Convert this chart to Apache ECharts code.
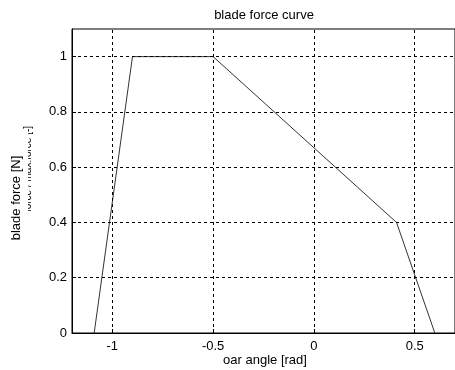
<!DOCTYPE html>
<html>
<head>
<meta charset="utf-8">
<script src="https://cdn.jsdelivr.net/npm/echarts@6/dist/echarts.min.js"></script>
<style>html,body{margin:0;padding:0;background:#fff}#c{width:455px;height:370px}</style>
</head>
<body>
<div id="c"></div>
<script>
// Data
const angle = [-1.09, -0.9, -0.5, 0.41, 0.6];
const force = [0, 1, 1, 0.4, 0];
const xTicks = [-1, -0.5, 0, 0.5];
const yTicks = [0, 0.2, 0.4, 0.6, 0.8, 1];
const titleText = 'blade force curve';
const xLabel = 'oar angle [rad]';
const yLabel = 'blade force [N]';
const yLabelHidden = 'force / max.force [-]';

const FONT = 'Liberation Sans, Arial, sans-serif';
const chart = echarts.init(document.getElementById('c'), null, {renderer: 'canvas'});

const gridLines = xTicks.map(v => ({xAxis: v})).concat(yTicks.filter(v => v > 0).map(v => ({yAxis: v})));

chart.setOption({
  animation: false,
  backgroundColor: '#fff',
  grid: {left: 72, top: 29, width: 386, height: 304, show: true, borderColor: '#000', borderWidth: 1, backgroundColor: '#fff'},
  xAxis: {
    type: 'value', min: -1.2, max: 0.7,
    axisLine: {show: true, onZero: false, lineStyle: {color: '#000', width: 1}},
    axisTick: {show: true, inside: true, length: 4, customValues: xTicks, lineStyle: {color: '#000'}},
    axisLabel: {customValues: xTicks, color: '#000', fontFamily: FONT, fontSize: 13, margin: 7,
      formatter: v => String(v)},
    splitLine: {show: false}
  },
  yAxis: {
    type: 'value', min: 0, max: 1.1,
    axisLine: {show: true, onZero: false, lineStyle: {color: '#000', width: 1}},
    axisTick: {show: true, inside: true, length: 4, customValues: yTicks, lineStyle: {color: '#000'}},
    axisLabel: {customValues: yTicks, color: '#000', fontFamily: FONT, fontSize: 13, margin: 5,
      formatter: v => String(v)},
    splitLine: {show: false}
  },
  series: [{
    type: 'line',
    data: angle.map((a, i) => [a, force[i]]),
    symbol: 'none',
    lineStyle: {color: '#333', width: 1},
    markLine: {
      silent: true, symbol: 'none', animation: false,
      label: {show: false},
      lineStyle: {color: '#000', type: [3, 3], width: 1},
      data: gridLines
    }
  }],
  graphic: [
    {type: 'text', x: 264, y: 15, style: {text: titleText, font: '13px ' + FONT, fill: '#000', align: 'center', verticalAlign: 'middle'}},
    {type: 'text', x: 265, y: 360, style: {text: xLabel, font: '13px ' + FONT, fill: '#000', align: 'center', verticalAlign: 'middle'}},
    {type: 'text', x: 28, y: 169, rotation: Math.PI / 2, z: 1,
      style: {text: yLabelHidden, font: '10px ' + FONT, fill: '#000', align: 'center', verticalAlign: 'middle'}},
    {type: 'text', x: 16, y: 189, rotation: Math.PI / 2, z: 2,
      style: {text: yLabel, font: '13px ' + FONT, fill: '#000', align: 'center', verticalAlign: 'middle',
        backgroundColor: '#fff', padding: [6, 24, 5, 6]}}
  ]
});
</script>
</body>
</html>
